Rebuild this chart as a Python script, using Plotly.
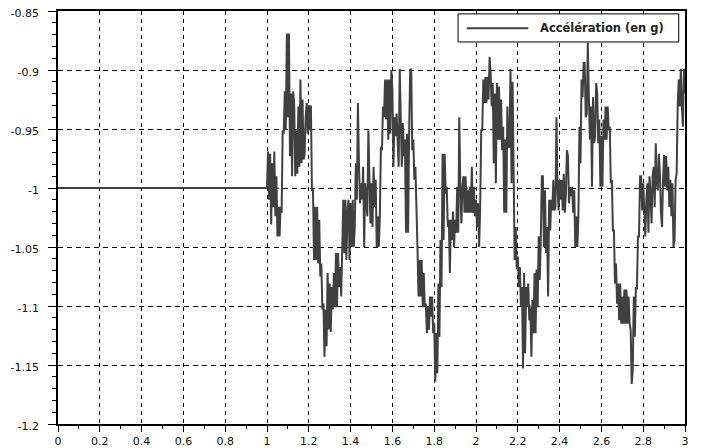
import numpy as np
import plotly.graph_objects as go

# Flat part (sensor at rest) then recorded acceleration, in g
time_flat = [0.0, 1.0]
acc_flat = [-1.0, -1.0]

t_start = 1.005
t_step = 0.005
acc_signal = [
    -0.969, -1.010, -0.971, -1.031, -0.979, -1.016, -0.969, -1.024, -0.990, -1.041,
    -1.016, -1.041, -1.016, -1.021, -0.951, -0.954, -0.918, -0.951, -0.869, -0.940,
    -0.869, -0.973, -0.920, -0.990, -0.918, -0.928, -0.990, -0.951, -0.988, -0.931,
    -0.982, -0.908, -0.979, -0.925, -0.976, -0.971, -0.940, -0.928, -0.954, -0.930,
    -0.951, -0.930, -1.002, -1.002, -1.061, -1.016, -1.061, -1.016, -1.064, -1.027,
    -1.075, -1.064, -1.103, -1.098, -1.143, -1.103, -1.134, -1.072, -1.120, -1.081,
    -1.122, -1.084, -1.103, -1.072, -1.101, -1.055, -1.101, -1.055, -1.084, -1.067,
    -1.092, -1.061, -1.010, -1.055, -1.010, -1.061, -1.019, -1.010, -1.061, -1.013,
    -1.050, -1.010, -1.050, -1.033, -0.979, -1.010, -0.928, -0.979, -1.013, -0.996,
    -1.010, -0.982, -1.050, -0.996, -1.010, -1.024, -0.951, -0.988, -1.030, -0.996,
    -1.033, -0.982, -1.016, -0.993, -1.050, -1.024, -1.050, -1.024, -0.965, -0.968,
    -0.931, -0.940, -0.908, -0.942, -0.908, -0.959, -0.908, -0.954, -0.900, -0.917,
    -0.982, -0.940, -0.956, -0.937, -0.956, -0.982, -0.899, -0.940, -0.982, -0.945,
    -0.973, -0.959, -1.038, -0.954, -1.038, -0.954, -0.900, -0.899, -0.968, -0.959,
    -0.993, -0.982, -1.010, -1.050, -1.092, -1.061, -1.092, -1.061, -1.101, -1.072,
    -1.101, -1.098, -1.123, -1.101, -1.120, -1.092, -1.109, -1.092, -1.123, -1.115,
    -1.164, -1.123, -1.157, -1.081, -1.126, -1.044, -1.084, -0.971, -1.044, -0.971,
    -1.005, -0.999, -1.033, -1.027, -1.072, -1.027, -1.044, -1.020, -1.050, -1.027,
    -1.038, -0.999, -1.038, -0.940, -0.999, -1.030, -0.999, -0.990, -1.021, -0.990,
    -1.021, -1.002, -1.021, -0.999, -1.021, -0.982, -1.021, -0.999, -1.024, -1.010,
    -1.033, -1.013, -1.050, -1.016, -0.951, -0.951, -0.908, -0.928, -0.906, -0.928,
    -0.906, -0.925, -0.889, -0.903, -0.931, -0.911, -0.979, -0.920, -0.996, -0.911,
    -0.959, -0.914, -0.959, -0.925, -0.968, -0.948, -1.021, -0.959, -1.021, -0.931,
    -0.965, -0.965, -0.899, -0.996, -0.910, -1.021, -1.061, -1.033, -1.069, -1.058,
    -1.084, -1.067, -1.101, -1.084, -1.153, -1.072, -1.140, -1.084, -1.101, -1.081,
    -1.112, -1.101, -1.143, -1.095, -1.123, -1.072, -1.123, -1.069, -1.101, -1.041,
    -1.078, -1.044, -0.990, -0.990, -1.050, -1.002, -1.055, -1.033, -1.092, -1.010,
    -1.036, -1.010, -1.019, -0.993, -1.019, -1.016, -0.940, -0.999, -1.019, -0.993,
    -1.010, -0.993, -1.019, -0.988, -1.021, -1.005, -0.968, -0.973, -1.013, -0.999,
    -1.007, -0.999, -1.021, -1.002, -1.050, -1.024, -1.050, -1.024, -0.948, -0.979,
    -0.908, -0.923, -0.894, -0.894, -0.940, -0.937, -0.877, -0.923, -0.959, -0.931,
    -0.999, -0.923, -0.962, -0.956, -0.911, -0.920, -0.962, -0.942, -0.999, -0.956,
    -0.999, -0.942, -0.959, -0.931, -0.959, -0.931, -0.951, -0.948, -0.996, -0.993,
    -1.036, -1.036, -1.081, -1.064, -1.098, -1.081, -1.112, -1.081, -1.115, -1.092,
    -1.115, -1.086, -1.115, -1.086, -1.115, -1.092, -1.115, -1.120, -1.166, -1.154,
    -1.092, -1.126, -1.084, -1.086, -1.041, -1.041, -0.990, -0.990, -1.019, -0.996,
    -1.021, -1.041, -1.010, -0.996, -1.038, -0.990, -1.005, -1.030, -0.990, -0.982,
    -1.016, -0.962, -0.996, -1.002, -0.971, -0.988, -1.021, -1.033, -0.993, -0.972,
    -0.999, -0.973, -1.002, -0.982, -1.016, -0.993, -1.024, -0.996, -1.050, -1.044,
    -0.993, -0.988, -0.931, -0.908, -0.931, -0.899, -0.931, -0.948, -0.899, -0.920,
]

legend_label = "Accélération (en g)"
x_ticks = [0, 0.2, 0.4, 0.6, 0.8, 1, 1.2, 1.4, 1.6, 1.8, 2, 2.2, 2.4, 2.6, 2.8, 3]
x_tick_text = ["0", "0.2", "0.4", "0.6", "0.8", "1", "1.2", "1.4", "1.6", "1.8",
               "2", "2.2", "2.4", "2.6", "2.8", "3"]
y_ticks = [-1.2, -1.15, -1.1, -1.05, -1.0, -0.95, -0.9, -0.85]
y_tick_text = ["-1.2", "-1.15", "-1.1", "-1.05", "-1", "-0.95", "-0.9", "-0.85"]

time_signal = np.round(t_start + t_step * np.arange(len(acc_signal)), 3)
time = list(time_flat) + list(time_signal)
acc = list(acc_flat) + list(acc_signal)

LINE_COLOR = "#404040"
FONT = "DejaVu Sans"

fig = go.Figure()
fig.add_trace(go.Scatter(x=time, y=acc, mode="lines", name=legend_label,
                         line=dict(color=LINE_COLOR, width=2), showlegend=False))

axis_common = dict(showline=True, linecolor="black", linewidth=1.5, mirror=True,
                   showgrid=True, gridcolor="black", gridwidth=1, zeroline=False,
                   ticks="outside", tickcolor="black", tickwidth=1, automargin=False,
                   ticklabeloverflow="allow",
                   tickfont=dict(family=FONT, size=11, color="#111"))

fig.update_xaxes(range=[0, 3], tickmode="array", tickvals=x_ticks, ticktext=x_tick_text,
                 ticklen=6, griddash="4px,4px", ticklabelstandoff=0,
                 minor=dict(dtick=0.1, ticks="outside", ticklen=3, tickcolor="black",
                            showgrid=False),
                 **axis_common)
fig.update_yaxes(range=[-1.2, -0.85], tickmode="array", tickvals=y_ticks, ticktext=y_tick_text,
                 ticklen=8, griddash="5px,4px", ticklabelstandoff=7, ticklabelshift=2,
                 minor=dict(dtick=0.01, tick0=-1.2, ticks="outside", ticklen=4,
                            tickcolor="black", showgrid=False),
                 **axis_common)

# Legend box drawn in the style of the original figure
fig.add_shape(type="rect", xref="paper", yref="paper", x0=0.638, x1=0.990, y0=0.925, y1=0.993,
              line=dict(color="black", width=1), fillcolor="white", layer="above")
fig.add_shape(type="line", xref="paper", yref="paper", x0=0.652, x1=0.750, y0=0.958, y1=0.958,
              line=dict(color=LINE_COLOR, width=2), layer="above")
fig.add_annotation(xref="paper", yref="paper", x=0.765, y=0.958, text=legend_label,
                   showarrow=False, xanchor="left", yanchor="middle",
                   font=dict(family="DejaVu Sans, sans-serif", size=11.5, color="#222",
                             weight="bold"))

# page body has an 8px default margin: size/margins compensate so the plot area lands at
# x 58..685, y 11..424 in the 701x448 window
fig.update_layout(width=693, height=440, margin=dict(l=50, r=16, t=3, b=24, autoexpand=False),
                  paper_bgcolor="white", plot_bgcolor="white")

fig.write_html("out.html")
